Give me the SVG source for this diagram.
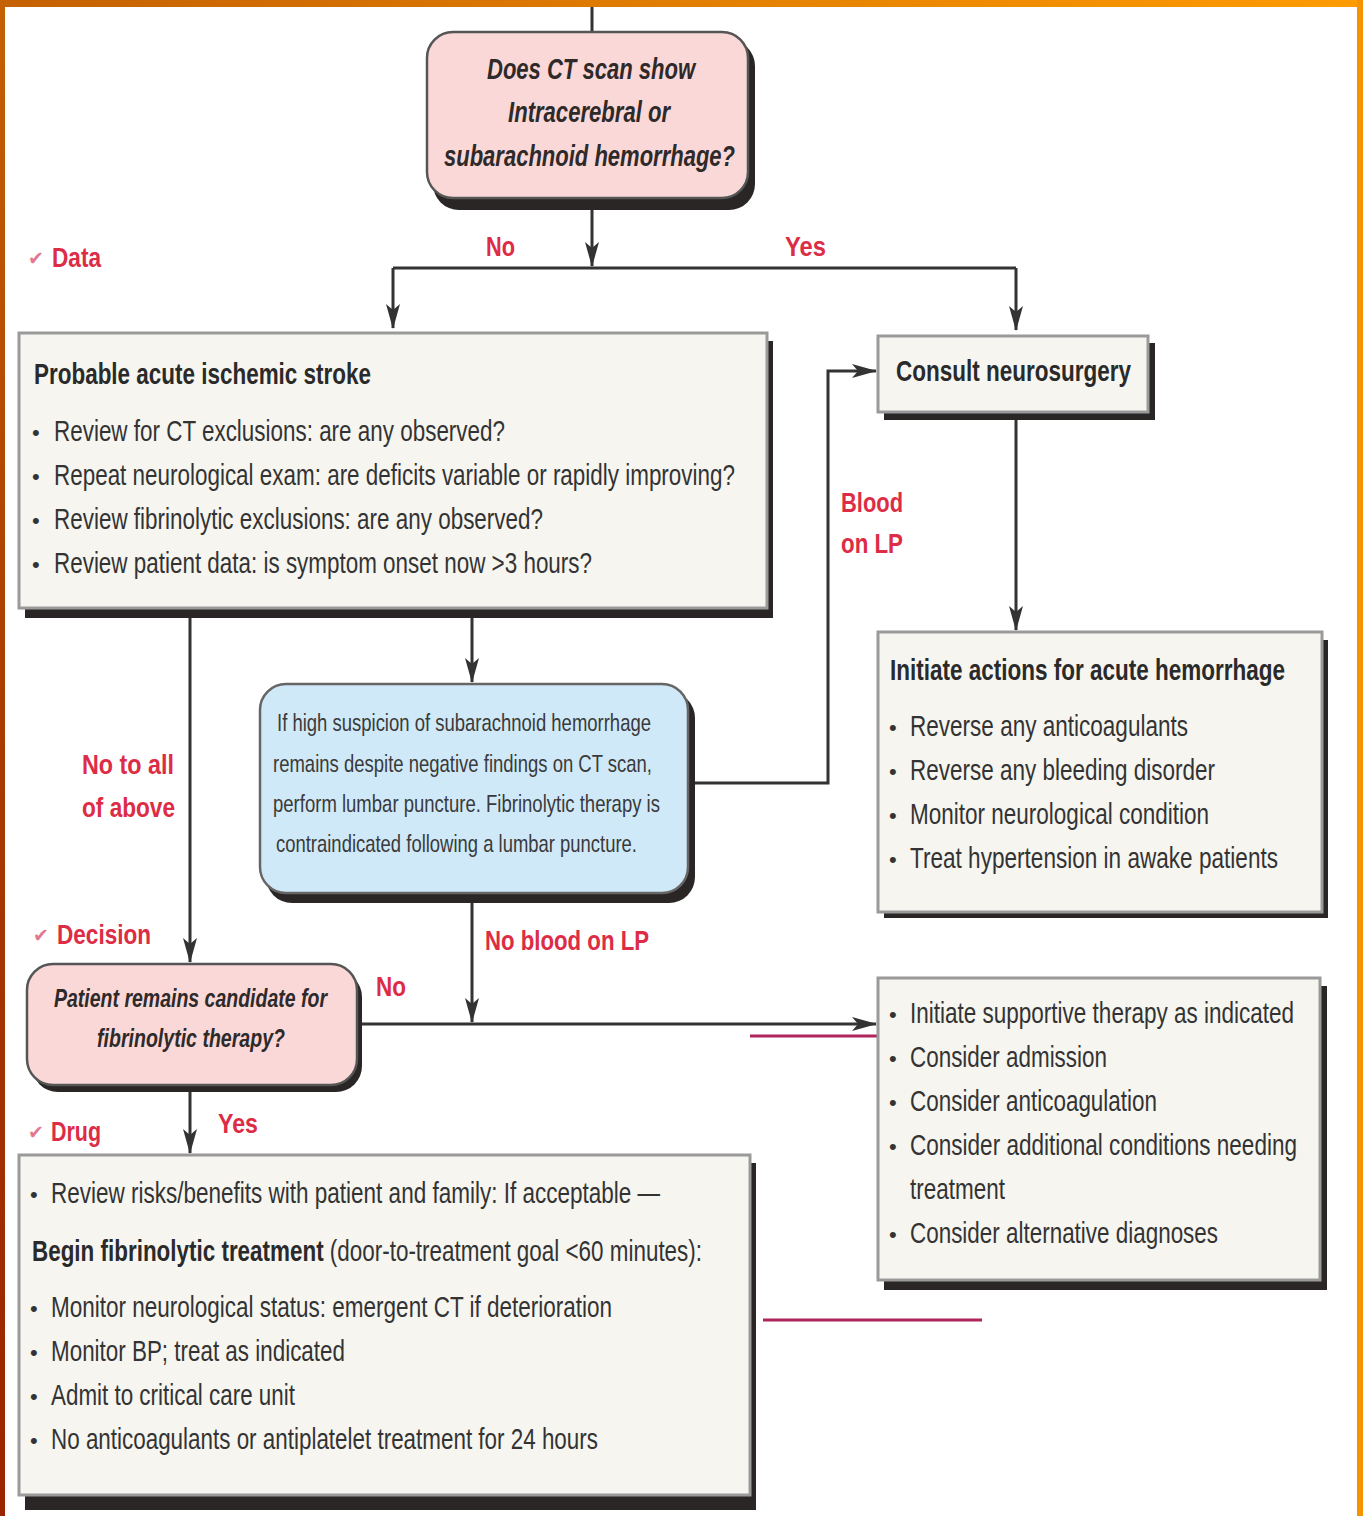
<svg xmlns="http://www.w3.org/2000/svg" width="1363" height="1516" viewBox="0 0 1363 1516">
<style>
.t{font-family:"Liberation Sans",Arial,sans-serif;fill:#333;font-size:29px}
.b{font-weight:bold;fill:#2a2a2a}
.q{font-family:"Liberation Sans",Arial,sans-serif;font-style:italic;font-weight:bold;fill:#2e2a2a;font-size:30px}
.bl{font-family:"Liberation Sans",Arial,sans-serif;fill:#3a3a3a;font-size:24px}
.lab{font-family:"Liberation Sans",Arial,sans-serif;font-weight:bold;fill:#dd2c45;font-size:27px}
.chk{font-family:"DejaVu Sans",sans-serif;fill:#e27890;font-size:19px}
.dot{font-family:"Liberation Sans",Arial,sans-serif;fill:#333;font-size:22px}
.box{fill:#f6f5f0;stroke:#9a9a9a;stroke-width:3}
.sh{fill:#2b2626}
.pink{fill:#fbd8d8;stroke:#555;stroke-width:2.5}
.blue{fill:#d0e9f8;stroke:#666;stroke-width:2.5}
.ln{fill:none;stroke:#333;stroke-width:3}
.mag{stroke:#b0245c;stroke-width:3}
</style>
<defs>
<linearGradient id="gTop" x1="0" y1="0" x2="1" y2="0">
<stop offset="0" stop-color="#c46000"/><stop offset="1" stop-color="#ff9c00"/>
</linearGradient>
<linearGradient id="gLeft" x1="0" y1="0" x2="0" y2="1">
<stop offset="0" stop-color="#c46000"/><stop offset="0.5" stop-color="#a83a00"/><stop offset="1" stop-color="#9a2400"/>
</linearGradient>
<marker id="ah" markerUnits="userSpaceOnUse" markerWidth="26" markerHeight="16" refX="24" refY="8" orient="auto">
<path d="M0,1 L25,8 L0,15 L6,8 z" fill="#333"/>
</marker>
</defs>
<rect x="0" y="0" width="1363" height="1516" fill="#ffffff"/>
<rect x="0" y="0" width="1363" height="7" fill="url(#gTop)"/>
<rect x="0" y="0" width="5" height="1516" fill="url(#gLeft)"/>
<rect x="1357" y="0" width="6" height="1516" fill="#f59400"/>

<g id="connectors">
<line class="ln" x1="592" y1="7" x2="592" y2="32"/>
<line class="ln" x1="592" y1="206" x2="592" y2="266" marker-end="url(#ah)"/>
<line class="ln" x1="393" y1="268" x2="1016" y2="268"/>
<line class="ln" x1="393" y1="268" x2="393" y2="328" marker-end="url(#ah)"/>
<line class="ln" x1="1016" y1="268" x2="1016" y2="330" marker-end="url(#ah)"/>
<line class="ln" x1="1016" y1="420" x2="1016" y2="630" marker-end="url(#ah)"/>
<line class="ln" x1="190" y1="618" x2="190" y2="962" marker-end="url(#ah)"/>
<line class="ln" x1="472" y1="618" x2="472" y2="682" marker-end="url(#ah)"/>
<polyline class="ln" points="695,783 828,783 828,371 876,371" marker-end="url(#ah)"/>
<line class="ln" x1="472" y1="903" x2="472" y2="1022" marker-end="url(#ah)"/>
<line class="ln" x1="362" y1="1024" x2="876" y2="1024" marker-end="url(#ah)"/>
<line class="ln" x1="190" y1="1092" x2="190" y2="1153" marker-end="url(#ah)"/>
<line class="mag" x1="750" y1="1036" x2="880" y2="1036"/>
<line class="mag" x1="763" y1="1320" x2="982" y2="1320"/>
</g>

<g id="labels">
<text class="lab" transform="translate(486,256) scale(0.76,1)" textLength="38.2" lengthAdjust="spacingAndGlyphs">No</text>
<text class="lab" transform="translate(785,256) scale(0.76,1)" textLength="53.9" lengthAdjust="spacingAndGlyphs">Yes</text>
<text class="chk" x="28" y="265">✔</text>
<text class="lab" transform="translate(52,267) scale(0.76,1)" textLength="64.5" lengthAdjust="spacingAndGlyphs">Data</text>
<text class="lab" transform="translate(841,512) scale(0.76,1)" textLength="81.6" lengthAdjust="spacingAndGlyphs">Blood</text>
<text class="lab" transform="translate(841,553) scale(0.76,1)" textLength="81.6" lengthAdjust="spacingAndGlyphs">on LP</text>
<text class="lab" transform="translate(82,774) scale(0.76,1)" textLength="121" lengthAdjust="spacingAndGlyphs">No to all</text>
<text class="lab" transform="translate(82,817) scale(0.76,1)" textLength="122.4" lengthAdjust="spacingAndGlyphs">of above</text>
<text class="chk" x="33" y="942">✔</text>
<text class="lab" transform="translate(57,944) scale(0.76,1)" textLength="123.7" lengthAdjust="spacingAndGlyphs">Decision</text>
<text class="lab" transform="translate(485,950) scale(0.76,1)" textLength="215.8" lengthAdjust="spacingAndGlyphs">No blood on LP</text>
<text class="lab" transform="translate(376,996) scale(0.76,1)" textLength="39.5" lengthAdjust="spacingAndGlyphs">No</text>
<text class="chk" x="28" y="1139">✔</text>
<text class="lab" transform="translate(51,1141) scale(0.76,1)" textLength="65.8" lengthAdjust="spacingAndGlyphs">Drug</text>
<text class="lab" transform="translate(218,1133) scale(0.76,1)" textLength="52.6" lengthAdjust="spacingAndGlyphs">Yes</text>
</g>

<g id="node-ct">
<rect class="sh" x="433" y="40" width="322" height="170" rx="26"/>
<rect class="pink" x="427" y="32" width="321" height="166" rx="26"/>
<text class="q" transform="translate(487,79) scale(0.76,1)" textLength="273.7" lengthAdjust="spacingAndGlyphs">Does CT scan show</text>
<text class="q" transform="translate(508,122) scale(0.76,1)" textLength="213.2" lengthAdjust="spacingAndGlyphs">Intracerebral or</text>
<text class="q" transform="translate(444,166) scale(0.76,1)" textLength="382.9" lengthAdjust="spacingAndGlyphs">subarachnoid hemorrhage?</text>
</g>

<g id="node-ischemic">
<rect class="sh" x="25" y="341" width="748" height="277"/>
<rect class="box" x="19" y="333" width="748" height="275"/>
<text class="t b" transform="translate(34,384) scale(0.76,1)" textLength="443.4" lengthAdjust="spacingAndGlyphs">Probable acute ischemic stroke</text>
<text class="dot" x="32" y="440">•</text>
<text class="t" transform="translate(54,441) scale(0.76,1)" textLength="593.4" lengthAdjust="spacingAndGlyphs">Review for CT exclusions: are any observed?</text>
<text class="dot" x="32" y="484">•</text>
<text class="t" transform="translate(54,485) scale(0.76,1)" textLength="896" lengthAdjust="spacingAndGlyphs">Repeat neurological exam: are deficits variable or rapidly improving?</text>
<text class="dot" x="32" y="528">•</text>
<text class="t" transform="translate(54,529) scale(0.76,1)" textLength="643.4" lengthAdjust="spacingAndGlyphs">Review fibrinolytic exclusions: are any observed?</text>
<text class="dot" x="32" y="572">•</text>
<text class="t" transform="translate(54,573) scale(0.76,1)" textLength="707.9" lengthAdjust="spacingAndGlyphs">Review patient data: is symptom onset now &gt;3 hours?</text>
</g>

<g id="node-consult">
<rect class="sh" x="884" y="343" width="271" height="77"/>
<rect class="box" x="878" y="336" width="270" height="76"/>
<text class="t b" transform="translate(896,381) scale(0.76,1)" textLength="309.2" lengthAdjust="spacingAndGlyphs">Consult neurosurgery</text>
</g>

<g id="node-hemorrhage">
<rect class="sh" x="884" y="640" width="444" height="278"/>
<rect class="box" x="878" y="632" width="444" height="280"/>
<text class="t b" transform="translate(890,680) scale(0.76,1)" textLength="519.7" lengthAdjust="spacingAndGlyphs">Initiate actions for acute hemorrhage</text>
<text class="dot" x="889" y="735">•</text>
<text class="t" transform="translate(910,736) scale(0.76,1)" textLength="365.8" lengthAdjust="spacingAndGlyphs">Reverse any anticoagulants</text>
<text class="dot" x="889" y="779">•</text>
<text class="t" transform="translate(910,780) scale(0.76,1)" textLength="401.3" lengthAdjust="spacingAndGlyphs">Reverse any bleeding disorder</text>
<text class="dot" x="889" y="823">•</text>
<text class="t" transform="translate(910,824) scale(0.76,1)" textLength="393.4" lengthAdjust="spacingAndGlyphs">Monitor neurological condition</text>
<text class="dot" x="889" y="867">•</text>
<text class="t" transform="translate(910,868) scale(0.76,1)" textLength="484.2" lengthAdjust="spacingAndGlyphs">Treat hypertension in awake patients</text>
</g>

<g id="node-lp">
<rect class="sh" x="266" y="692" width="429" height="211" rx="26"/>
<rect class="blue" x="260" y="684" width="428" height="209" rx="26"/>
<text class="bl" transform="translate(277,731) scale(0.76,1)" textLength="492.1" lengthAdjust="spacingAndGlyphs">If high suspicion of subarachnoid hemorrhage</text>
<text class="bl" transform="translate(273,772) scale(0.76,1)" textLength="498.7" lengthAdjust="spacingAndGlyphs">remains despite negative findings on CT scan,</text>
<text class="bl" transform="translate(273,812) scale(0.76,1)" textLength="509.2" lengthAdjust="spacingAndGlyphs">perform lumbar puncture. Fibrinolytic therapy is</text>
<text class="bl" transform="translate(276,852) scale(0.76,1)" textLength="475" lengthAdjust="spacingAndGlyphs">contraindicated following a lumbar puncture.</text>
</g>

<g id="node-candidate">
<rect class="sh" x="32" y="971" width="330" height="121" rx="26"/>
<rect class="pink" x="27" y="964" width="330" height="121" rx="26"/>
<text class="q" transform="translate(54,1007) scale(0.76,1)" style="font-size:26px" textLength="359.2" lengthAdjust="spacingAndGlyphs">Patient remains candidate for</text>
<text class="q" transform="translate(97,1047) scale(0.76,1)" style="font-size:26px" textLength="247.4" lengthAdjust="spacingAndGlyphs">fibrinolytic therapy?</text>
</g>

<g id="node-supportive">
<rect class="sh" x="884" y="986" width="443" height="304"/>
<rect class="box" x="878" y="978" width="442" height="302"/>
<text class="dot" x="889" y="1022">•</text>
<text class="t" transform="translate(910,1023) scale(0.76,1)" textLength="505.3" lengthAdjust="spacingAndGlyphs">Initiate supportive therapy as indicated</text>
<text class="dot" x="889" y="1066">•</text>
<text class="t" transform="translate(910,1067) scale(0.76,1)" textLength="259.2" lengthAdjust="spacingAndGlyphs">Consider admission</text>
<text class="dot" x="889" y="1110">•</text>
<text class="t" transform="translate(910,1111) scale(0.76,1)" textLength="325" lengthAdjust="spacingAndGlyphs">Consider anticoagulation</text>
<text class="dot" x="889" y="1154">•</text>
<text class="t" transform="translate(910,1155) scale(0.76,1)" textLength="509.2" lengthAdjust="spacingAndGlyphs">Consider additional conditions needing</text>
<text class="t" transform="translate(910,1199) scale(0.76,1)" textLength="125" lengthAdjust="spacingAndGlyphs">treatment</text>
<text class="dot" x="889" y="1242">•</text>
<text class="t" transform="translate(910,1243) scale(0.76,1)" textLength="405.3" lengthAdjust="spacingAndGlyphs">Consider alternative diagnoses</text>
</g>

<g id="node-treatment">
<rect class="sh" x="25" y="1163" width="731" height="347"/>
<rect class="box" x="19" y="1155" width="731" height="340"/>
<text class="dot" x="30" y="1202">•</text>
<text class="t" transform="translate(51,1203) scale(0.76,1)" textLength="801.3" lengthAdjust="spacingAndGlyphs">Review risks/benefits with patient and family: If acceptable —</text>
<text class="t" transform="translate(32,1261) scale(0.76,1)" textLength="881.6" lengthAdjust="spacingAndGlyphs"><tspan class="b">Begin fibrinolytic treatment</tspan> (door-to-treatment goal &lt;60 minutes):</text>
<text class="dot" x="30" y="1316">•</text>
<text class="t" transform="translate(51,1317) scale(0.76,1)" textLength="738.2" lengthAdjust="spacingAndGlyphs">Monitor neurological status: emergent CT if deterioration</text>
<text class="dot" x="30" y="1360">•</text>
<text class="t" transform="translate(51,1361) scale(0.76,1)" textLength="386.8" lengthAdjust="spacingAndGlyphs">Monitor BP; treat as indicated</text>
<text class="dot" x="30" y="1404">•</text>
<text class="t" transform="translate(51,1405) scale(0.76,1)" textLength="321" lengthAdjust="spacingAndGlyphs">Admit to critical care unit</text>
<text class="dot" x="30" y="1448">•</text>
<text class="t" transform="translate(51,1449) scale(0.76,1)" textLength="719.7" lengthAdjust="spacingAndGlyphs">No anticoagulants or antiplatelet treatment for 24 hours</text>
</g>
</svg>
